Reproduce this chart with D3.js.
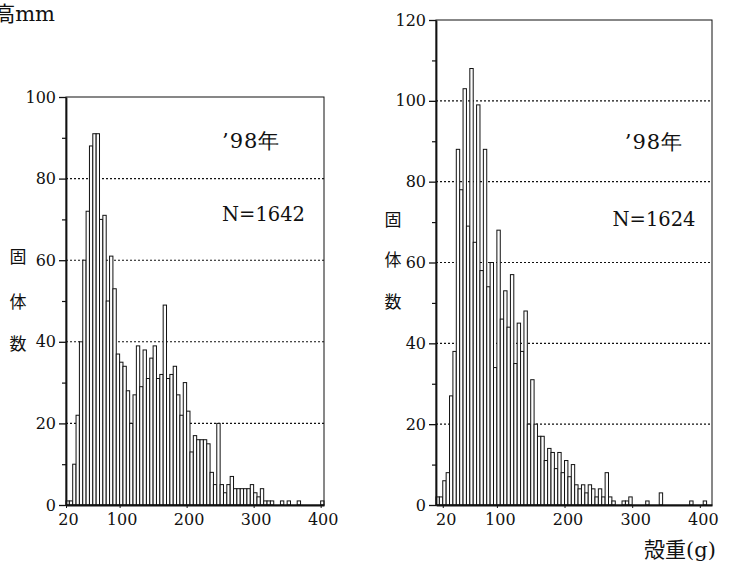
<!DOCTYPE html>
<html>
<head>
<meta charset="utf-8">
<script src="https://cdn.jsdelivr.net/npm/d3@7"></script>
<style>
  html, body { margin: 0; padding: 0; background: #fff; }
  svg { display: block; }
  text { fill: #111; }
</style>
</head>
<body>
<svg id="chart" width="731" height="568"></svg>
<script>
// Shell-weight frequency histograms, 5 g classes, 1998 samples.

// Left panel: lower class bounds (g) and counts
const leftBins = [20,25,30,35,40,45,50,55,60,65,70,75,80,85,90,95,100,105,110,115,
  120,125,130,135,140,145,150,155,160,165,170,175,180,185,190,195,200,205,210,215,
  220,225,230,235,240,245,250,255,260,265,270,275,280,285,290,295,300,305,310,315,
  320,325,330,335,340,345,350,355,360,365,370,375,380,385,390,395,400];
const leftCounts = [1,1,10,22,40,60,72,88,91,91,70,71,50,61,53,37,35,34,28,20,
  27,39,29,38,31,36,39,31,32,49,31,32,34,27,22,30,23,13,17,16,
  16,16,15,8,5,20,5,3,5,7,4,4,4,4,4,5,3,2,4,1,
  1,1,0,0,1,0,1,0,0,1,0,0,0,0,0,0,1];

// Right panel: lower class bounds (g) and counts
const rightBins = [10,15,20,25,30,35,40,45,50,55,60,65,70,75,80,85,90,95,100,105,
  110,115,120,125,130,135,140,145,150,155,160,165,170,175,180,185,190,195,200,205,
  210,215,220,225,230,235,240,245,250,255,260,265,270,275,280,285,290,295,300,305,
  310,315,320,325,330,335,340,345,350,355,360,365,370,375,380,385,390,395,400,405];
const rightCounts = [2,2,6,8,27,38,88,78,103,69,108,65,99,58,88,54,60,34,68,46,
  53,44,57,35,45,38,48,20,31,20,17,17,11,14,13,9,13,8,11,7,
  10,5,4,5,3,5,4,2,4,2,8,2,1,0,0,1,1,2,0,0,
  0,0,1,0,0,0,3,0,0,0,0,0,0,0,0,1,0,0,0,1];

const binWidth = 5;

// Axis ticks
const xTicks = [20, 100, 200, 300, 400];
const leftYMajor = [0, 20, 40, 60, 80, 100];
const leftYMinor = [10, 30, 50, 70, 90];
const leftGrid = [20, 40, 60, 80];
const rightYMajor = [0, 20, 40, 60, 80, 100, 120];
const rightYMinor = [10, 30, 50, 70, 90, 110];
const rightGrid = [20, 40, 60, 80, 100];

// Panel annotations
const yearLabel = "\u201998年";
const leftN = "N=1642";
const rightN = "N=1624";
const yTitleChars = ["固", "体", "数"];

const serif = "'DejaVu Serif', 'Liberation Serif', serif";
const cjk = "'Noto Sans CJK JP', 'Noto Sans CJK SC', sans-serif";

const svg = d3.select("#chart");
svg.append("rect").attr("width", 731).attr("height", 568).attr("fill", "#fff");

function drawPanel(p) {
  const x = d3.scaleLinear().domain(p.xDomain).range([p.left, p.right]);
  const y = d3.scaleLinear().domain(p.yDomain).range([p.bottom, p.top]);
  const g = svg.append("g");

  // dotted reference lines
  g.selectAll("line.grid").data(p.grid).join("line")
    .attr("class", "grid")
    .attr("x1", p.left).attr("x2", p.right)
    .attr("y1", d => y(d)).attr("y2", d => y(d))
    .attr("stroke", "#111").attr("stroke-width", 1.1)
    .attr("stroke-dasharray", "2,2");

  // histogram bars
  const data = p.bins.map((b, i) => ({ b, c: p.counts[i] })).filter(d => d.c > 0);
  g.selectAll("rect.bar").data(data).join("rect")
    .attr("class", "bar")
    .attr("x", d => x(d.b))
    .attr("width", d => x(d.b + binWidth) - x(d.b))
    .attr("y", d => y(d.c))
    .attr("height", d => y(0) - y(d.c))
    .attr("fill", "#fdfdfd")
    .attr("stroke", "#111")
    .attr("stroke-width", 1);

  // frame
  g.append("rect")
    .attr("x", p.left).attr("y", p.top)
    .attr("width", p.right - p.left).attr("height", p.bottom - p.top)
    .attr("fill", "none").attr("stroke", "#111").attr("stroke-width", 1);

  // y axis: major (labelled) and minor ticks
  const yAxis = g.append("g").attr("transform", `translate(${p.left},0)`)
    .call(d3.axisLeft(y).tickValues(p.yMajor).tickSize(7).tickPadding(3).tickSizeOuter(0));
  yAxis.select(".domain").attr("stroke", "#111").attr("stroke-width", 1.8);
  yAxis.selectAll(".tick line").attr("stroke", "#111").attr("stroke-width", 1.3);
  yAxis.selectAll("text").attr("font-family", serif).attr("font-size", 16).attr("fill", "#111");
  const yMinor = g.append("g").attr("transform", `translate(${p.left},0)`)
    .call(d3.axisLeft(y).tickValues(p.yMinor).tickSize(4).tickFormat("").tickSizeOuter(0));
  yMinor.select(".domain").remove();
  yMinor.selectAll(".tick line").attr("stroke", "#111").attr("stroke-width", 1.2);

  // x axis
  const xAxis = g.append("g").attr("transform", `translate(0,${p.bottom})`)
    .call(d3.axisBottom(x).tickValues(xTicks).tickSize(3).tickPadding(6).tickSizeOuter(0));
  xAxis.select(".domain").attr("stroke", "#111").attr("stroke-width", 1.8);
  xAxis.selectAll(".tick line").attr("stroke", "#111");
  xAxis.selectAll("text").attr("font-family", serif).attr("font-size", 16).attr("fill", "#111")
    .attr("dx", p.xLabelDx);

  // in-panel annotations
  g.append("text").attr("x", p.yearX).attr("y", p.yearY)
    .attr("text-anchor", p.anchor).attr("font-family", serif).attr("font-size", 21)
    .attr("letter-spacing", 1)
    .text(yearLabel);
  g.append("text").attr("x", p.nX).attr("y", p.nY)
    .attr("text-anchor", p.anchor).attr("font-family", serif).attr("font-size", 19.5)
    .text(p.n);

  // vertical y-axis title
  g.selectAll("text.ytitle").data(yTitleChars).join("text")
    .attr("class", "ytitle")
    .attr("x", p.titleX)
    .attr("y", (d, i) => p.titleY[i])
    .attr("text-anchor", "middle").attr("dominant-baseline", "central")
    .attr("font-family", cjk).attr("font-size", 17)
    .text(d => d);
}

drawPanel({
  bins: leftBins, counts: leftCounts,
  xDomain: [20, 405], yDomain: [0, 100],
  left: 66, right: 324, top: 97, bottom: 505,
  grid: leftGrid, yMajor: leftYMajor, yMinor: leftYMinor,
  xLabelDx: 2,
  anchor: "start", yearX: 222, yearY: 148, nX: 222, nY: 221, n: leftN,
  titleX: 18, titleY: [255, 300, 342]
});

drawPanel({
  bins: rightBins, counts: rightCounts,
  xDomain: [10, 418], yDomain: [0, 120],
  left: 436, right: 712, top: 20, bottom: 505,
  grid: rightGrid, yMajor: rightYMajor, yMinor: rightYMinor,
  xLabelDx: 3,
  anchor: "middle", yearX: 654, yearY: 149, nX: 654, nY: 226, n: rightN,
  titleX: 393, titleY: [218, 258, 300]
});

// x-axis title (bottom right) and cut-off header at top left
const xt = svg.append("text").attr("x", 680).attr("y", 557)
  .attr("text-anchor", "middle").attr("font-size", 21);
xt.append("tspan").attr("font-family", cjk).text("殻重");
xt.append("tspan").attr("font-family", serif).text("(g)");

const hd = svg.append("text").attr("x", 55).attr("y", 21)
  .attr("text-anchor", "end").attr("font-size", 21);
hd.append("tspan").attr("font-family", cjk).text("殻高");
hd.append("tspan").attr("font-family", serif).text("mm");
</script>
</body>
</html>
